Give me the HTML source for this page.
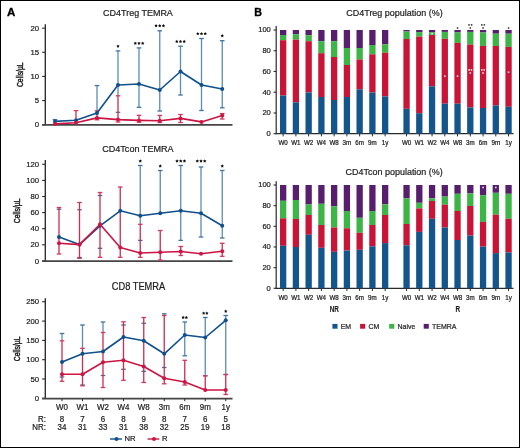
<!DOCTYPE html>
<html><head><meta charset="utf-8"><style>html,body{margin:0;padding:0;background:#fff;overflow:hidden}svg{display:block;will-change:transform}</style></head><body>
<svg width="520" height="448" viewBox="0 0 520 448">
<rect x="0" y="0" width="520" height="448" fill="#fff"/>
<rect x="0.5" y="0.5" width="519" height="447" fill="none" stroke="#000" stroke-width="1"/>
<text transform="translate(6.9,15.6) scale(1.12,1)" font-family="Liberation Sans, sans-serif" font-size="10.3" text-anchor="start" fill="#000" stroke="#000" stroke-width="0.3" font-weight="bold">A</text>
<text transform="translate(254.2,15.5) scale(1.04,1)" font-family="Liberation Sans, sans-serif" font-size="10.3" text-anchor="start" fill="#000" stroke="#000" stroke-width="0.3" font-weight="bold">B</text>
<text transform="translate(103.1,15.5) scale(0.907,1)" font-family="Liberation Sans, sans-serif" font-size="9.9" text-anchor="start" fill="#1e1e1e" stroke="#1e1e1e" stroke-width="0.22">CD4Treg TEMRA</text>
<line x1="45.3" y1="24.3" x2="45.3" y2="125.35" stroke="#2a2a2a" stroke-width="1.35"/>
<line x1="42.099999999999994" y1="124.8" x2="45.3" y2="124.8" stroke="#2a2a2a" stroke-width="1.1"/>
<text transform="translate(39.099999999999994,127.3) scale(0.97,1)" font-family="Liberation Sans, sans-serif" font-size="8.0" text-anchor="end" fill="#1e1e1e" stroke="#1e1e1e" stroke-width="0.22">0</text>
<line x1="42.099999999999994" y1="100.6" x2="45.3" y2="100.6" stroke="#2a2a2a" stroke-width="1.1"/>
<text transform="translate(39.099999999999994,103.1) scale(0.97,1)" font-family="Liberation Sans, sans-serif" font-size="8.0" text-anchor="end" fill="#1e1e1e" stroke="#1e1e1e" stroke-width="0.22">5</text>
<line x1="42.099999999999994" y1="76.4" x2="45.3" y2="76.4" stroke="#2a2a2a" stroke-width="1.1"/>
<text transform="translate(39.099999999999994,78.9) scale(0.97,1)" font-family="Liberation Sans, sans-serif" font-size="8.0" text-anchor="end" fill="#1e1e1e" stroke="#1e1e1e" stroke-width="0.22">10</text>
<line x1="42.099999999999994" y1="52.3" x2="45.3" y2="52.3" stroke="#2a2a2a" stroke-width="1.1"/>
<text transform="translate(39.099999999999994,54.8) scale(0.97,1)" font-family="Liberation Sans, sans-serif" font-size="8.0" text-anchor="end" fill="#1e1e1e" stroke="#1e1e1e" stroke-width="0.22">15</text>
<line x1="42.099999999999994" y1="28.2" x2="45.3" y2="28.2" stroke="#2a2a2a" stroke-width="1.1"/>
<text transform="translate(39.099999999999994,30.7) scale(0.97,1)" font-family="Liberation Sans, sans-serif" font-size="8.0" text-anchor="end" fill="#1e1e1e" stroke="#1e1e1e" stroke-width="0.22">20</text>
<line x1="42.099999999999994" y1="124.85" x2="232.5" y2="124.85" stroke="#454545" stroke-width="1.7"/>
<text transform="translate(23.4,74.7) rotate(-90) scale(0.725,1)" font-family="Liberation Sans, sans-serif" font-size="9.4" text-anchor="middle" fill="#1e1e1e" stroke="#1e1e1e" stroke-width="0.45">Cells/µL</text>
<line x1="55" y1="119.60" x2="55" y2="121.40" stroke="#5c8cb4" stroke-width="1.3"/>
<line x1="52.7" y1="119.6" x2="57.3" y2="119.6" stroke="#4073a3" stroke-width="1.3"/>



<line x1="97" y1="85.60" x2="97" y2="110.80" stroke="#5c8cb4" stroke-width="1.3"/>

<line x1="94.7" y1="85.6" x2="99.3" y2="85.6" stroke="#4073a3" stroke-width="1.3"/>
<line x1="118" y1="50.90" x2="118" y2="95.80" stroke="#5c8cb4" stroke-width="1.3"/>

<line x1="115.7" y1="50.9" x2="120.3" y2="50.9" stroke="#4073a3" stroke-width="1.3"/><line x1="115.7" y1="112.3" x2="120.3" y2="112.3" stroke="#4073a3" stroke-width="1.3"/>
<line x1="139" y1="47.90" x2="139" y2="107.30" stroke="#5c8cb4" stroke-width="1.3"/>

<line x1="136.7" y1="47.9" x2="141.3" y2="47.9" stroke="#4073a3" stroke-width="1.3"/><line x1="136.7" y1="107.3" x2="141.3" y2="107.3" stroke="#4073a3" stroke-width="1.3"/>
<line x1="159.75" y1="30.80" x2="159.75" y2="111.00" stroke="#5c8cb4" stroke-width="1.3"/>

<line x1="157.45" y1="30.8" x2="162.05" y2="30.8" stroke="#4073a3" stroke-width="1.3"/><line x1="157.45" y1="111" x2="162.05" y2="111" stroke="#4073a3" stroke-width="1.3"/>
<line x1="180.5" y1="46.20" x2="180.5" y2="95.00" stroke="#5c8cb4" stroke-width="1.3"/>

<line x1="178.2" y1="46.2" x2="182.8" y2="46.2" stroke="#4073a3" stroke-width="1.3"/><line x1="178.2" y1="95" x2="182.8" y2="95" stroke="#4073a3" stroke-width="1.3"/>
<line x1="201.5" y1="38.50" x2="201.5" y2="110.50" stroke="#5c8cb4" stroke-width="1.3"/>
<line x1="199.2" y1="38.5" x2="203.8" y2="38.5" stroke="#4073a3" stroke-width="1.3"/><line x1="199.2" y1="110.5" x2="203.8" y2="110.5" stroke="#4073a3" stroke-width="1.3"/>
<line x1="222.25" y1="40.70" x2="222.25" y2="107.80" stroke="#5c8cb4" stroke-width="1.3"/>

<line x1="219.95" y1="40.7" x2="224.55" y2="40.7" stroke="#4073a3" stroke-width="1.3"/><line x1="219.95" y1="107.8" x2="224.55" y2="107.8" stroke="#4073a3" stroke-width="1.3"/>


<line x1="76" y1="110.60" x2="76" y2="122.80" stroke="#cd2c50" stroke-width="1.3"/>
<line x1="73.7" y1="110.6" x2="78.3" y2="110.6" stroke="#d4385f" stroke-width="1.3"/>
<line x1="97" y1="110.80" x2="97" y2="119.80" stroke="#cd2c50" stroke-width="1.3"/>
<line x1="94.7" y1="110.8" x2="99.3" y2="110.8" stroke="#d4385f" stroke-width="1.3"/><line x1="94.7" y1="119.8" x2="99.3" y2="119.8" stroke="#d4385f" stroke-width="1.3"/>
<line x1="118" y1="95.80" x2="118" y2="122.00" stroke="#cd2c50" stroke-width="1.3"/>
<line x1="115.7" y1="95.8" x2="120.3" y2="95.8" stroke="#d4385f" stroke-width="1.3"/><line x1="115.7" y1="122" x2="120.3" y2="122" stroke="#d4385f" stroke-width="1.3"/>
<line x1="139" y1="115.30" x2="139" y2="122.20" stroke="#cd2c50" stroke-width="1.3"/>
<line x1="136.7" y1="115.3" x2="141.3" y2="115.3" stroke="#d4385f" stroke-width="1.3"/><line x1="136.7" y1="122.2" x2="141.3" y2="122.2" stroke="#d4385f" stroke-width="1.3"/>
<line x1="159.75" y1="115.40" x2="159.75" y2="122.50" stroke="#cd2c50" stroke-width="1.3"/>
<line x1="157.45" y1="115.4" x2="162.05" y2="115.4" stroke="#d4385f" stroke-width="1.3"/><line x1="157.45" y1="122.5" x2="162.05" y2="122.5" stroke="#d4385f" stroke-width="1.3"/>
<line x1="180.5" y1="114.50" x2="180.5" y2="122.50" stroke="#cd2c50" stroke-width="1.3"/>
<line x1="178.2" y1="114.5" x2="182.8" y2="114.5" stroke="#d4385f" stroke-width="1.3"/><line x1="178.2" y1="122.5" x2="182.8" y2="122.5" stroke="#d4385f" stroke-width="1.3"/>


<line x1="222.25" y1="113.60" x2="222.25" y2="119.00" stroke="#cd2c50" stroke-width="1.3"/>
<line x1="219.95" y1="113.6" x2="224.55" y2="113.6" stroke="#d4385f" stroke-width="1.3"/><line x1="219.95" y1="119" x2="224.55" y2="119" stroke="#d4385f" stroke-width="1.3"/>
<polyline points="55,121.4 76,120.3 97,112.9 118,85 139,84 159.75,90 180.5,71.5 201.5,85 222.25,89" fill="none" stroke="#10508c" stroke-width="1.6" stroke-linejoin="round"/>
<circle cx="55" cy="121.4" r="2" fill="#10508c"/>
<circle cx="76" cy="120.3" r="2" fill="#10508c"/>
<circle cx="97" cy="112.9" r="2" fill="#10508c"/>
<circle cx="118" cy="85" r="2" fill="#10508c"/>
<circle cx="139" cy="84" r="2" fill="#10508c"/>
<circle cx="159.75" cy="90" r="2" fill="#10508c"/>
<circle cx="180.5" cy="71.5" r="2" fill="#10508c"/>
<circle cx="201.5" cy="85" r="2" fill="#10508c"/>
<circle cx="222.25" cy="89" r="2" fill="#10508c"/>
<polyline points="55,123.9 76,122.8 97,117.9 118,119.6 139,120.4 159.75,120.8 180.5,118.4 201.5,121.9 222.25,115.4" fill="none" stroke="#cc1543" stroke-width="1.6" stroke-linejoin="round"/>
<circle cx="55" cy="123.9" r="2" fill="#cc1543"/>
<circle cx="76" cy="122.8" r="2" fill="#cc1543"/>
<circle cx="97" cy="117.9" r="2" fill="#cc1543"/>
<circle cx="118" cy="119.6" r="2" fill="#cc1543"/>
<circle cx="139" cy="120.4" r="2" fill="#cc1543"/>
<circle cx="159.75" cy="120.8" r="2" fill="#cc1543"/>
<circle cx="180.5" cy="118.4" r="2" fill="#cc1543"/>
<circle cx="201.5" cy="121.9" r="2" fill="#cc1543"/>
<circle cx="222.25" cy="115.4" r="2" fill="#cc1543"/>
<polygon points="118.00,44.45 118.57,45.42 119.66,45.66 118.92,46.50 119.03,47.62 118.00,47.16 116.97,47.62 117.08,46.50 116.34,45.66 117.43,45.42" fill="#111"/>
<polygon points="135.30,41.65 135.87,42.62 136.96,42.86 136.22,43.70 136.33,44.82 135.30,44.36 134.27,44.82 134.38,43.70 133.64,42.86 134.73,42.62" fill="#111"/><polygon points="139.00,41.65 139.57,42.62 140.66,42.86 139.92,43.70 140.03,44.82 139.00,44.36 137.97,44.82 138.08,43.70 137.34,42.86 138.43,42.62" fill="#111"/><polygon points="142.70,41.65 143.27,42.62 144.36,42.86 143.62,43.70 143.73,44.82 142.70,44.36 141.67,44.82 141.78,43.70 141.04,42.86 142.13,42.62" fill="#111"/>
<polygon points="156.05,24.05 156.62,25.02 157.71,25.26 156.97,26.10 157.08,27.22 156.05,26.76 155.02,27.22 155.13,26.10 154.39,25.26 155.48,25.02" fill="#111"/><polygon points="159.75,24.05 160.32,25.02 161.41,25.26 160.67,26.10 160.78,27.22 159.75,26.76 158.72,27.22 158.83,26.10 158.09,25.26 159.18,25.02" fill="#111"/><polygon points="163.45,24.05 164.02,25.02 165.11,25.26 164.37,26.10 164.48,27.22 163.45,26.76 162.42,27.22 162.53,26.10 161.79,25.26 162.88,25.02" fill="#111"/>
<polygon points="176.80,39.75 177.37,40.72 178.46,40.96 177.72,41.80 177.83,42.92 176.80,42.46 175.77,42.92 175.88,41.80 175.14,40.96 176.23,40.72" fill="#111"/><polygon points="180.50,39.75 181.07,40.72 182.16,40.96 181.42,41.80 181.53,42.92 180.50,42.46 179.47,42.92 179.58,41.80 178.84,40.96 179.93,40.72" fill="#111"/><polygon points="184.20,39.75 184.77,40.72 185.86,40.96 185.12,41.80 185.23,42.92 184.20,42.46 183.17,42.92 183.28,41.80 182.54,40.96 183.63,40.72" fill="#111"/>
<polygon points="197.80,31.95 198.37,32.92 199.46,33.16 198.72,34.00 198.83,35.12 197.80,34.66 196.77,35.12 196.88,34.00 196.14,33.16 197.23,32.92" fill="#111"/><polygon points="201.50,31.95 202.07,32.92 203.16,33.16 202.42,34.00 202.53,35.12 201.50,34.66 200.47,35.12 200.58,34.00 199.84,33.16 200.93,32.92" fill="#111"/><polygon points="205.20,31.95 205.77,32.92 206.86,33.16 206.12,34.00 206.23,35.12 205.20,34.66 204.17,35.12 204.28,34.00 203.54,33.16 204.63,32.92" fill="#111"/>
<polygon points="222.25,34.05 222.82,35.02 223.91,35.26 223.17,36.10 223.28,37.22 222.25,36.76 221.22,37.22 221.33,36.10 220.59,35.26 221.68,35.02" fill="#111"/>
<text transform="translate(102.2,151.8) scale(0.917,1)" font-family="Liberation Sans, sans-serif" font-size="9.9" text-anchor="start" fill="#1e1e1e" stroke="#1e1e1e" stroke-width="0.22">CD4Tcon TEMRA</text>
<line x1="45.3" y1="160" x2="45.3" y2="261.7" stroke="#2a2a2a" stroke-width="1.35"/>
<line x1="42.099999999999994" y1="261" x2="45.3" y2="261" stroke="#2a2a2a" stroke-width="1.1"/>
<text transform="translate(39.099999999999994,263.5) scale(0.97,1)" font-family="Liberation Sans, sans-serif" font-size="8.0" text-anchor="end" fill="#1e1e1e" stroke="#1e1e1e" stroke-width="0.22">0</text>
<line x1="42.099999999999994" y1="244.8" x2="45.3" y2="244.8" stroke="#2a2a2a" stroke-width="1.1"/>
<text transform="translate(39.099999999999994,247.3) scale(0.97,1)" font-family="Liberation Sans, sans-serif" font-size="8.0" text-anchor="end" fill="#1e1e1e" stroke="#1e1e1e" stroke-width="0.22">20</text>
<line x1="42.099999999999994" y1="228.7" x2="45.3" y2="228.7" stroke="#2a2a2a" stroke-width="1.1"/>
<text transform="translate(39.099999999999994,231.2) scale(0.97,1)" font-family="Liberation Sans, sans-serif" font-size="8.0" text-anchor="end" fill="#1e1e1e" stroke="#1e1e1e" stroke-width="0.22">40</text>
<line x1="42.099999999999994" y1="212.6" x2="45.3" y2="212.6" stroke="#2a2a2a" stroke-width="1.1"/>
<text transform="translate(39.099999999999994,215.1) scale(0.97,1)" font-family="Liberation Sans, sans-serif" font-size="8.0" text-anchor="end" fill="#1e1e1e" stroke="#1e1e1e" stroke-width="0.22">60</text>
<line x1="42.099999999999994" y1="196.5" x2="45.3" y2="196.5" stroke="#2a2a2a" stroke-width="1.1"/>
<text transform="translate(39.099999999999994,199.0) scale(0.97,1)" font-family="Liberation Sans, sans-serif" font-size="8.0" text-anchor="end" fill="#1e1e1e" stroke="#1e1e1e" stroke-width="0.22">80</text>
<line x1="42.099999999999994" y1="180.4" x2="45.3" y2="180.4" stroke="#2a2a2a" stroke-width="1.1"/>
<text transform="translate(39.099999999999994,182.9) scale(0.97,1)" font-family="Liberation Sans, sans-serif" font-size="8.0" text-anchor="end" fill="#1e1e1e" stroke="#1e1e1e" stroke-width="0.22">100</text>
<line x1="42.099999999999994" y1="164.3" x2="45.3" y2="164.3" stroke="#2a2a2a" stroke-width="1.1"/>
<text transform="translate(39.099999999999994,166.8) scale(0.97,1)" font-family="Liberation Sans, sans-serif" font-size="8.0" text-anchor="end" fill="#1e1e1e" stroke="#1e1e1e" stroke-width="0.22">120</text>
<line x1="42.099999999999994" y1="261.2" x2="232.5" y2="261.2" stroke="#454545" stroke-width="1.7"/>
<text transform="translate(19.7,210.85) rotate(-90) scale(0.725,1)" font-family="Liberation Sans, sans-serif" font-size="9.4" text-anchor="middle" fill="#1e1e1e" stroke="#1e1e1e" stroke-width="0.45">Cells/µL</text>


<line x1="56.7" y1="209.2" x2="61.3" y2="209.2" stroke="#4073a3" stroke-width="1.3"/>


<line x1="77.2" y1="209.7" x2="81.8" y2="209.7" stroke="#4073a3" stroke-width="1.3"/><line x1="77.2" y1="257.5" x2="81.8" y2="257.5" stroke="#4073a3" stroke-width="1.3"/>


<line x1="97.7" y1="195.5" x2="102.3" y2="195.5" stroke="#4073a3" stroke-width="1.3"/><line x1="97.7" y1="248.3" x2="102.3" y2="248.3" stroke="#4073a3" stroke-width="1.3"/>



<line x1="140.25" y1="165.50" x2="140.25" y2="224.30" stroke="#5c8cb4" stroke-width="1.3"/>

<line x1="137.95" y1="165.5" x2="142.55" y2="165.5" stroke="#4073a3" stroke-width="1.3"/><line x1="137.95" y1="240.4" x2="142.55" y2="240.4" stroke="#4073a3" stroke-width="1.3"/>
<line x1="160.25" y1="170.50" x2="160.25" y2="213.30" stroke="#5c8cb4" stroke-width="1.3"/>

<line x1="157.95" y1="170.5" x2="162.55" y2="170.5" stroke="#4073a3" stroke-width="1.3"/>
<line x1="180.75" y1="165.50" x2="180.75" y2="240.40" stroke="#5c8cb4" stroke-width="1.3"/>

<line x1="178.45" y1="165.5" x2="183.05" y2="165.5" stroke="#4073a3" stroke-width="1.3"/><line x1="178.45" y1="240.4" x2="183.05" y2="240.4" stroke="#4073a3" stroke-width="1.3"/>
<line x1="201" y1="167.00" x2="201" y2="237.00" stroke="#5c8cb4" stroke-width="1.3"/>
<line x1="198.7" y1="167" x2="203.3" y2="167" stroke="#4073a3" stroke-width="1.3"/><line x1="198.7" y1="237" x2="203.3" y2="237" stroke="#4073a3" stroke-width="1.3"/>
<line x1="222.25" y1="170.50" x2="222.25" y2="238.00" stroke="#5c8cb4" stroke-width="1.3"/>

<line x1="219.95" y1="170.5" x2="224.55" y2="170.5" stroke="#4073a3" stroke-width="1.3"/><line x1="219.95" y1="238" x2="224.55" y2="238" stroke="#4073a3" stroke-width="1.3"/>
<line x1="59" y1="207.50" x2="59" y2="254.00" stroke="#cd2c50" stroke-width="1.3"/>
<line x1="56.7" y1="207.5" x2="61.3" y2="207.5" stroke="#d4385f" stroke-width="1.3"/><line x1="56.7" y1="254" x2="61.3" y2="254" stroke="#d4385f" stroke-width="1.3"/>
<line x1="79.5" y1="202.50" x2="79.5" y2="258.30" stroke="#cd2c50" stroke-width="1.3"/>
<line x1="77.2" y1="202.5" x2="81.8" y2="202.5" stroke="#d4385f" stroke-width="1.3"/><line x1="77.2" y1="258.3" x2="81.8" y2="258.3" stroke="#d4385f" stroke-width="1.3"/>
<line x1="100" y1="192.50" x2="100" y2="257.30" stroke="#cd2c50" stroke-width="1.3"/>
<line x1="97.7" y1="192.5" x2="102.3" y2="192.5" stroke="#d4385f" stroke-width="1.3"/><line x1="97.7" y1="257.3" x2="102.3" y2="257.3" stroke="#d4385f" stroke-width="1.3"/>
<line x1="120.25" y1="187.00" x2="120.25" y2="257.30" stroke="#cd2c50" stroke-width="1.3"/>
<line x1="117.95" y1="187" x2="122.55" y2="187" stroke="#d4385f" stroke-width="1.3"/><line x1="117.95" y1="257.3" x2="122.55" y2="257.3" stroke="#d4385f" stroke-width="1.3"/>
<line x1="140.25" y1="224.30" x2="140.25" y2="257.30" stroke="#cd2c50" stroke-width="1.3"/>
<line x1="137.95" y1="224.3" x2="142.55" y2="224.3" stroke="#d4385f" stroke-width="1.3"/><line x1="137.95" y1="257.3" x2="142.55" y2="257.3" stroke="#d4385f" stroke-width="1.3"/>
<line x1="160.25" y1="230.50" x2="160.25" y2="260.00" stroke="#cd2c50" stroke-width="1.3"/>
<line x1="157.95" y1="230.5" x2="162.55" y2="230.5" stroke="#d4385f" stroke-width="1.3"/><line x1="157.95" y1="260" x2="162.55" y2="260" stroke="#d4385f" stroke-width="1.3"/>
<line x1="180.75" y1="246.50" x2="180.75" y2="255.50" stroke="#cd2c50" stroke-width="1.3"/>
<line x1="178.45" y1="246.5" x2="183.05" y2="246.5" stroke="#d4385f" stroke-width="1.3"/><line x1="178.45" y1="255.5" x2="183.05" y2="255.5" stroke="#d4385f" stroke-width="1.3"/>


<line x1="222.25" y1="243.30" x2="222.25" y2="256.30" stroke="#cd2c50" stroke-width="1.3"/>
<line x1="219.95" y1="243.3" x2="224.55" y2="243.3" stroke="#d4385f" stroke-width="1.3"/><line x1="219.95" y1="256.3" x2="224.55" y2="256.3" stroke="#d4385f" stroke-width="1.3"/>
<polyline points="59,237 79.5,244.6 100,225.8 120.25,210.8 140.25,215.7 160.25,213.3 180.75,210.8 201,213.3 222.25,225.8" fill="none" stroke="#10508c" stroke-width="1.6" stroke-linejoin="round"/>
<circle cx="59" cy="237" r="2" fill="#10508c"/>
<circle cx="79.5" cy="244.6" r="2" fill="#10508c"/>
<circle cx="100" cy="225.8" r="2" fill="#10508c"/>
<circle cx="120.25" cy="210.8" r="2" fill="#10508c"/>
<circle cx="140.25" cy="215.7" r="2" fill="#10508c"/>
<circle cx="160.25" cy="213.3" r="2" fill="#10508c"/>
<circle cx="180.75" cy="210.8" r="2" fill="#10508c"/>
<circle cx="201" cy="213.3" r="2" fill="#10508c"/>
<circle cx="222.25" cy="225.8" r="2" fill="#10508c"/>
<polyline points="59,243.3 79.5,244.6 100,224.2 120.25,247.5 140.25,253 160.25,252.3 180.75,251.5 201,253.8 222.25,251.3" fill="none" stroke="#cc1543" stroke-width="1.6" stroke-linejoin="round"/>
<circle cx="59" cy="243.3" r="2" fill="#cc1543"/>
<circle cx="79.5" cy="244.6" r="2" fill="#cc1543"/>
<circle cx="100" cy="224.2" r="2" fill="#cc1543"/>
<circle cx="120.25" cy="247.5" r="2" fill="#cc1543"/>
<circle cx="140.25" cy="253" r="2" fill="#cc1543"/>
<circle cx="160.25" cy="252.3" r="2" fill="#cc1543"/>
<circle cx="180.75" cy="251.5" r="2" fill="#cc1543"/>
<circle cx="201" cy="253.8" r="2" fill="#cc1543"/>
<circle cx="222.25" cy="251.3" r="2" fill="#cc1543"/>
<polygon points="140.25,159.35 140.82,160.32 141.91,160.56 141.17,161.40 141.28,162.52 140.25,162.06 139.22,162.52 139.33,161.40 138.59,160.56 139.68,160.32" fill="#111"/>
<polygon points="160.25,164.25 160.82,165.22 161.91,165.46 161.17,166.30 161.28,167.42 160.25,166.96 159.22,167.42 159.33,166.30 158.59,165.46 159.68,165.22" fill="#111"/>
<polygon points="177.05,159.35 177.62,160.32 178.71,160.56 177.97,161.40 178.08,162.52 177.05,162.06 176.02,162.52 176.13,161.40 175.39,160.56 176.48,160.32" fill="#111"/><polygon points="180.75,159.35 181.32,160.32 182.41,160.56 181.67,161.40 181.78,162.52 180.75,162.06 179.72,162.52 179.83,161.40 179.09,160.56 180.18,160.32" fill="#111"/><polygon points="184.45,159.35 185.02,160.32 186.11,160.56 185.37,161.40 185.48,162.52 184.45,162.06 183.42,162.52 183.53,161.40 182.79,160.56 183.88,160.32" fill="#111"/>
<polygon points="197.30,159.35 197.87,160.32 198.96,160.56 198.22,161.40 198.33,162.52 197.30,162.06 196.27,162.52 196.38,161.40 195.64,160.56 196.73,160.32" fill="#111"/><polygon points="201.00,159.35 201.57,160.32 202.66,160.56 201.92,161.40 202.03,162.52 201.00,162.06 199.97,162.52 200.08,161.40 199.34,160.56 200.43,160.32" fill="#111"/><polygon points="204.70,159.35 205.27,160.32 206.36,160.56 205.62,161.40 205.73,162.52 204.70,162.06 203.67,162.52 203.78,161.40 203.04,160.56 204.13,160.32" fill="#111"/>
<polygon points="222.25,164.25 222.82,165.22 223.91,165.46 223.17,166.30 223.28,167.42 222.25,166.96 221.22,167.42 221.33,166.30 220.59,165.46 221.68,165.22" fill="#111"/>
<text transform="translate(111.8,289.6) scale(0.928,1)" font-family="Liberation Sans, sans-serif" font-size="10.0" text-anchor="start" fill="#1e1e1e" stroke="#1e1e1e" stroke-width="0.22">CD8 TEMRA</text>
<line x1="45.3" y1="298.2" x2="45.3" y2="399.1" stroke="#2a2a2a" stroke-width="1.35"/>
<line x1="42.099999999999994" y1="398.3" x2="45.3" y2="398.3" stroke="#2a2a2a" stroke-width="1.1"/>
<text transform="translate(39.099999999999994,400.8) scale(0.97,1)" font-family="Liberation Sans, sans-serif" font-size="8.0" text-anchor="end" fill="#1e1e1e" stroke="#1e1e1e" stroke-width="0.22">0</text>
<line x1="42.099999999999994" y1="379" x2="45.3" y2="379" stroke="#2a2a2a" stroke-width="1.1"/>
<text transform="translate(39.099999999999994,381.5) scale(0.97,1)" font-family="Liberation Sans, sans-serif" font-size="8.0" text-anchor="end" fill="#1e1e1e" stroke="#1e1e1e" stroke-width="0.22">50</text>
<line x1="42.099999999999994" y1="359.7" x2="45.3" y2="359.7" stroke="#2a2a2a" stroke-width="1.1"/>
<text transform="translate(39.099999999999994,362.2) scale(0.97,1)" font-family="Liberation Sans, sans-serif" font-size="8.0" text-anchor="end" fill="#1e1e1e" stroke="#1e1e1e" stroke-width="0.22">100</text>
<line x1="42.099999999999994" y1="340.4" x2="45.3" y2="340.4" stroke="#2a2a2a" stroke-width="1.1"/>
<text transform="translate(39.099999999999994,342.9) scale(0.97,1)" font-family="Liberation Sans, sans-serif" font-size="8.0" text-anchor="end" fill="#1e1e1e" stroke="#1e1e1e" stroke-width="0.22">150</text>
<line x1="42.099999999999994" y1="321.1" x2="45.3" y2="321.1" stroke="#2a2a2a" stroke-width="1.1"/>
<text transform="translate(39.099999999999994,323.6) scale(0.97,1)" font-family="Liberation Sans, sans-serif" font-size="8.0" text-anchor="end" fill="#1e1e1e" stroke="#1e1e1e" stroke-width="0.22">200</text>
<line x1="42.099999999999994" y1="301.7" x2="45.3" y2="301.7" stroke="#2a2a2a" stroke-width="1.1"/>
<text transform="translate(39.099999999999994,304.2) scale(0.97,1)" font-family="Liberation Sans, sans-serif" font-size="8.0" text-anchor="end" fill="#1e1e1e" stroke="#1e1e1e" stroke-width="0.22">250</text>
<line x1="42.099999999999994" y1="398.6" x2="232.5" y2="398.6" stroke="#454545" stroke-width="1.7"/>
<line x1="62" y1="398.6" x2="62" y2="401.20000000000005" stroke="#2a2a2a" stroke-width="1"/>
<line x1="82.5" y1="398.6" x2="82.5" y2="401.20000000000005" stroke="#2a2a2a" stroke-width="1"/>
<line x1="103" y1="398.6" x2="103" y2="401.20000000000005" stroke="#2a2a2a" stroke-width="1"/>
<line x1="123.5" y1="398.6" x2="123.5" y2="401.20000000000005" stroke="#2a2a2a" stroke-width="1"/>
<line x1="143.75" y1="398.6" x2="143.75" y2="401.20000000000005" stroke="#2a2a2a" stroke-width="1"/>
<line x1="164.25" y1="398.6" x2="164.25" y2="401.20000000000005" stroke="#2a2a2a" stroke-width="1"/>
<line x1="184.75" y1="398.6" x2="184.75" y2="401.20000000000005" stroke="#2a2a2a" stroke-width="1"/>
<line x1="205.25" y1="398.6" x2="205.25" y2="401.20000000000005" stroke="#2a2a2a" stroke-width="1"/>
<line x1="225.75" y1="398.6" x2="225.75" y2="401.20000000000005" stroke="#2a2a2a" stroke-width="1"/>
<text transform="translate(19.7,348.8) rotate(-90) scale(0.725,1)" font-family="Liberation Sans, sans-serif" font-size="9.4" text-anchor="middle" fill="#1e1e1e" stroke="#1e1e1e" stroke-width="0.45">Cells/µL</text>
<line x1="62" y1="333.50" x2="62" y2="340.80" stroke="#5c8cb4" stroke-width="1.3"/>

<line x1="59.7" y1="333.5" x2="64.3" y2="333.5" stroke="#4073a3" stroke-width="1.3"/><line x1="59.7" y1="377" x2="64.3" y2="377" stroke="#4073a3" stroke-width="1.3"/>
<line x1="82.5" y1="325.00" x2="82.5" y2="348.30" stroke="#5c8cb4" stroke-width="1.3"/>

<line x1="80.2" y1="325" x2="84.8" y2="325" stroke="#4073a3" stroke-width="1.3"/><line x1="80.2" y1="385" x2="84.8" y2="385" stroke="#4073a3" stroke-width="1.3"/>
<line x1="103" y1="322.00" x2="103" y2="332.50" stroke="#5c8cb4" stroke-width="1.3"/>

<line x1="100.7" y1="322" x2="105.3" y2="322" stroke="#4073a3" stroke-width="1.3"/><line x1="100.7" y1="375.5" x2="105.3" y2="375.5" stroke="#4073a3" stroke-width="1.3"/>


<line x1="121.2" y1="325" x2="125.8" y2="325" stroke="#4073a3" stroke-width="1.3"/><line x1="121.2" y1="369.3" x2="125.8" y2="369.3" stroke="#4073a3" stroke-width="1.3"/>


<line x1="141.45" y1="323.3" x2="146.05" y2="323.3" stroke="#4073a3" stroke-width="1.3"/><line x1="141.45" y1="371.3" x2="146.05" y2="371.3" stroke="#4073a3" stroke-width="1.3"/>
<line x1="164.25" y1="313.80" x2="164.25" y2="315.50" stroke="#5c8cb4" stroke-width="1.3"/>

<line x1="161.95" y1="313.8" x2="166.55" y2="313.8" stroke="#4073a3" stroke-width="1.3"/><line x1="161.95" y1="367.5" x2="166.55" y2="367.5" stroke="#4073a3" stroke-width="1.3"/>
<line x1="184.75" y1="322.00" x2="184.75" y2="355.80" stroke="#5c8cb4" stroke-width="1.3"/>

<line x1="182.45" y1="322" x2="187.05" y2="322" stroke="#4073a3" stroke-width="1.3"/><line x1="182.45" y1="355.8" x2="187.05" y2="355.8" stroke="#4073a3" stroke-width="1.3"/>
<line x1="205.25" y1="317.50" x2="205.25" y2="375.80" stroke="#5c8cb4" stroke-width="1.3"/>

<line x1="202.95" y1="317.5" x2="207.55" y2="317.5" stroke="#4073a3" stroke-width="1.3"/><line x1="202.95" y1="375.8" x2="207.55" y2="375.8" stroke="#4073a3" stroke-width="1.3"/>
<line x1="225.75" y1="315.50" x2="225.75" y2="374.50" stroke="#5c8cb4" stroke-width="1.3"/>

<line x1="223.45" y1="315.5" x2="228.05" y2="315.5" stroke="#4073a3" stroke-width="1.3"/><line x1="223.45" y1="374.5" x2="228.05" y2="374.5" stroke="#4073a3" stroke-width="1.3"/>
<line x1="62" y1="340.80" x2="62" y2="381.30" stroke="#cd2c50" stroke-width="1.3"/>
<line x1="59.7" y1="340.8" x2="64.3" y2="340.8" stroke="#d4385f" stroke-width="1.3"/><line x1="59.7" y1="381.3" x2="64.3" y2="381.3" stroke="#d4385f" stroke-width="1.3"/>
<line x1="82.5" y1="348.30" x2="82.5" y2="385.80" stroke="#cd2c50" stroke-width="1.3"/>
<line x1="80.2" y1="348.3" x2="84.8" y2="348.3" stroke="#d4385f" stroke-width="1.3"/><line x1="80.2" y1="385.8" x2="84.8" y2="385.8" stroke="#d4385f" stroke-width="1.3"/>
<line x1="103" y1="332.50" x2="103" y2="387.50" stroke="#cd2c50" stroke-width="1.3"/>
<line x1="100.7" y1="332.5" x2="105.3" y2="332.5" stroke="#d4385f" stroke-width="1.3"/><line x1="100.7" y1="387.5" x2="105.3" y2="387.5" stroke="#d4385f" stroke-width="1.3"/>
<line x1="123.5" y1="321.80" x2="123.5" y2="380.30" stroke="#cd2c50" stroke-width="1.3"/>
<line x1="121.2" y1="321.8" x2="125.8" y2="321.8" stroke="#d4385f" stroke-width="1.3"/><line x1="121.2" y1="380.3" x2="125.8" y2="380.3" stroke="#d4385f" stroke-width="1.3"/>
<line x1="143.75" y1="317.50" x2="143.75" y2="382.50" stroke="#cd2c50" stroke-width="1.3"/>
<line x1="141.45" y1="317.5" x2="146.05" y2="317.5" stroke="#d4385f" stroke-width="1.3"/><line x1="141.45" y1="382.5" x2="146.05" y2="382.5" stroke="#d4385f" stroke-width="1.3"/>
<line x1="164.25" y1="315.50" x2="164.25" y2="383.80" stroke="#cd2c50" stroke-width="1.3"/>
<line x1="161.95" y1="315.5" x2="166.55" y2="315.5" stroke="#d4385f" stroke-width="1.3"/><line x1="161.95" y1="383.8" x2="166.55" y2="383.8" stroke="#d4385f" stroke-width="1.3"/>
<line x1="184.75" y1="360.30" x2="184.75" y2="385.00" stroke="#cd2c50" stroke-width="1.3"/>
<line x1="182.45" y1="360.3" x2="187.05" y2="360.3" stroke="#d4385f" stroke-width="1.3"/><line x1="182.45" y1="385" x2="187.05" y2="385" stroke="#d4385f" stroke-width="1.3"/>
<line x1="205.25" y1="375.80" x2="205.25" y2="390.00" stroke="#cd2c50" stroke-width="1.3"/>
<line x1="202.95" y1="375.8" x2="207.55" y2="375.8" stroke="#d4385f" stroke-width="1.3"/>
<line x1="225.75" y1="374.50" x2="225.75" y2="394.50" stroke="#cd2c50" stroke-width="1.3"/>
<line x1="223.45" y1="374.5" x2="228.05" y2="374.5" stroke="#d4385f" stroke-width="1.3"/><line x1="223.45" y1="394.5" x2="228.05" y2="394.5" stroke="#d4385f" stroke-width="1.3"/>
<polyline points="62,362 82.5,353.8 103,351.5 123.5,337 143.75,340.8 164.25,353.8 184.75,335 205.25,337.5 225.75,320.3" fill="none" stroke="#10508c" stroke-width="1.6" stroke-linejoin="round"/>
<circle cx="62" cy="362" r="2" fill="#10508c"/>
<circle cx="82.5" cy="353.8" r="2" fill="#10508c"/>
<circle cx="103" cy="351.5" r="2" fill="#10508c"/>
<circle cx="123.5" cy="337" r="2" fill="#10508c"/>
<circle cx="143.75" cy="340.8" r="2" fill="#10508c"/>
<circle cx="164.25" cy="353.8" r="2" fill="#10508c"/>
<circle cx="184.75" cy="335" r="2" fill="#10508c"/>
<circle cx="205.25" cy="337.5" r="2" fill="#10508c"/>
<circle cx="225.75" cy="320.3" r="2" fill="#10508c"/>
<polyline points="62,374.3 82.5,374.3 103,362.3 123.5,360.3 143.75,366.5 164.25,378.3 184.75,382 205.25,390 225.75,390" fill="none" stroke="#cc1543" stroke-width="1.6" stroke-linejoin="round"/>
<circle cx="62" cy="374.3" r="2" fill="#cc1543"/>
<circle cx="82.5" cy="374.3" r="2" fill="#cc1543"/>
<circle cx="103" cy="362.3" r="2" fill="#cc1543"/>
<circle cx="123.5" cy="360.3" r="2" fill="#cc1543"/>
<circle cx="143.75" cy="366.5" r="2" fill="#cc1543"/>
<circle cx="164.25" cy="378.3" r="2" fill="#cc1543"/>
<circle cx="184.75" cy="382" r="2" fill="#cc1543"/>
<circle cx="205.25" cy="390" r="2" fill="#cc1543"/>
<circle cx="225.75" cy="390" r="2" fill="#cc1543"/>
<polygon points="183.15,315.75 183.72,316.72 184.81,316.96 184.07,317.80 184.18,318.92 183.15,318.46 182.12,318.92 182.23,317.80 181.49,316.96 182.58,316.72" fill="#111"/><polygon points="186.35,315.75 186.92,316.72 188.01,316.96 187.27,317.80 187.38,318.92 186.35,318.46 185.32,318.92 185.43,317.80 184.69,316.96 185.78,316.72" fill="#111"/>
<polygon points="203.65,311.45 204.22,312.42 205.31,312.66 204.57,313.50 204.68,314.62 203.65,314.16 202.62,314.62 202.73,313.50 201.99,312.66 203.08,312.42" fill="#111"/><polygon points="206.85,311.45 207.42,312.42 208.51,312.66 207.77,313.50 207.88,314.62 206.85,314.16 205.82,314.62 205.93,313.50 205.19,312.66 206.28,312.42" fill="#111"/>
<polygon points="225.75,309.55 226.32,310.52 227.41,310.76 226.67,311.60 226.78,312.72 225.75,312.26 224.72,312.72 224.83,311.60 224.09,310.76 225.18,310.52" fill="#111"/>
<text transform="translate(62,410.2) scale(0.97,1)" font-family="Liberation Sans, sans-serif" font-size="8.2" text-anchor="middle" fill="#1e1e1e" stroke="#1e1e1e" stroke-width="0.22">W0</text>
<text transform="translate(62,421.7) scale(0.97,1)" font-family="Liberation Sans, sans-serif" font-size="8.2" text-anchor="middle" fill="#1e1e1e" stroke="#1e1e1e" stroke-width="0.22">8</text>
<text transform="translate(62,430.3) scale(0.97,1)" font-family="Liberation Sans, sans-serif" font-size="8.2" text-anchor="middle" fill="#1e1e1e" stroke="#1e1e1e" stroke-width="0.22">34</text>
<text transform="translate(82.5,410.2) scale(0.97,1)" font-family="Liberation Sans, sans-serif" font-size="8.2" text-anchor="middle" fill="#1e1e1e" stroke="#1e1e1e" stroke-width="0.22">W1</text>
<text transform="translate(82.5,421.7) scale(0.97,1)" font-family="Liberation Sans, sans-serif" font-size="8.2" text-anchor="middle" fill="#1e1e1e" stroke="#1e1e1e" stroke-width="0.22">7</text>
<text transform="translate(82.5,430.3) scale(0.97,1)" font-family="Liberation Sans, sans-serif" font-size="8.2" text-anchor="middle" fill="#1e1e1e" stroke="#1e1e1e" stroke-width="0.22">31</text>
<text transform="translate(103,410.2) scale(0.97,1)" font-family="Liberation Sans, sans-serif" font-size="8.2" text-anchor="middle" fill="#1e1e1e" stroke="#1e1e1e" stroke-width="0.22">W2</text>
<text transform="translate(103,421.7) scale(0.97,1)" font-family="Liberation Sans, sans-serif" font-size="8.2" text-anchor="middle" fill="#1e1e1e" stroke="#1e1e1e" stroke-width="0.22">6</text>
<text transform="translate(103,430.3) scale(0.97,1)" font-family="Liberation Sans, sans-serif" font-size="8.2" text-anchor="middle" fill="#1e1e1e" stroke="#1e1e1e" stroke-width="0.22">33</text>
<text transform="translate(123.5,410.2) scale(0.97,1)" font-family="Liberation Sans, sans-serif" font-size="8.2" text-anchor="middle" fill="#1e1e1e" stroke="#1e1e1e" stroke-width="0.22">W4</text>
<text transform="translate(123.5,421.7) scale(0.97,1)" font-family="Liberation Sans, sans-serif" font-size="8.2" text-anchor="middle" fill="#1e1e1e" stroke="#1e1e1e" stroke-width="0.22">8</text>
<text transform="translate(123.5,430.3) scale(0.97,1)" font-family="Liberation Sans, sans-serif" font-size="8.2" text-anchor="middle" fill="#1e1e1e" stroke="#1e1e1e" stroke-width="0.22">31</text>
<text transform="translate(143.75,410.2) scale(0.97,1)" font-family="Liberation Sans, sans-serif" font-size="8.2" text-anchor="middle" fill="#1e1e1e" stroke="#1e1e1e" stroke-width="0.22">W8</text>
<text transform="translate(143.75,421.7) scale(0.97,1)" font-family="Liberation Sans, sans-serif" font-size="8.2" text-anchor="middle" fill="#1e1e1e" stroke="#1e1e1e" stroke-width="0.22">9</text>
<text transform="translate(143.75,430.3) scale(0.97,1)" font-family="Liberation Sans, sans-serif" font-size="8.2" text-anchor="middle" fill="#1e1e1e" stroke="#1e1e1e" stroke-width="0.22">38</text>
<text transform="translate(164.25,410.2) scale(0.97,1)" font-family="Liberation Sans, sans-serif" font-size="8.2" text-anchor="middle" fill="#1e1e1e" stroke="#1e1e1e" stroke-width="0.22">3m</text>
<text transform="translate(164.25,421.7) scale(0.97,1)" font-family="Liberation Sans, sans-serif" font-size="8.2" text-anchor="middle" fill="#1e1e1e" stroke="#1e1e1e" stroke-width="0.22">8</text>
<text transform="translate(164.25,430.3) scale(0.97,1)" font-family="Liberation Sans, sans-serif" font-size="8.2" text-anchor="middle" fill="#1e1e1e" stroke="#1e1e1e" stroke-width="0.22">32</text>
<text transform="translate(184.75,410.2) scale(0.97,1)" font-family="Liberation Sans, sans-serif" font-size="8.2" text-anchor="middle" fill="#1e1e1e" stroke="#1e1e1e" stroke-width="0.22">6m</text>
<text transform="translate(184.75,421.7) scale(0.97,1)" font-family="Liberation Sans, sans-serif" font-size="8.2" text-anchor="middle" fill="#1e1e1e" stroke="#1e1e1e" stroke-width="0.22">7</text>
<text transform="translate(184.75,430.3) scale(0.97,1)" font-family="Liberation Sans, sans-serif" font-size="8.2" text-anchor="middle" fill="#1e1e1e" stroke="#1e1e1e" stroke-width="0.22">25</text>
<text transform="translate(205.25,410.2) scale(0.97,1)" font-family="Liberation Sans, sans-serif" font-size="8.2" text-anchor="middle" fill="#1e1e1e" stroke="#1e1e1e" stroke-width="0.22">9m</text>
<text transform="translate(205.25,421.7) scale(0.97,1)" font-family="Liberation Sans, sans-serif" font-size="8.2" text-anchor="middle" fill="#1e1e1e" stroke="#1e1e1e" stroke-width="0.22">6</text>
<text transform="translate(205.25,430.3) scale(0.97,1)" font-family="Liberation Sans, sans-serif" font-size="8.2" text-anchor="middle" fill="#1e1e1e" stroke="#1e1e1e" stroke-width="0.22">19</text>
<text transform="translate(225.75,410.2) scale(0.97,1)" font-family="Liberation Sans, sans-serif" font-size="8.2" text-anchor="middle" fill="#1e1e1e" stroke="#1e1e1e" stroke-width="0.22">1y</text>
<text transform="translate(225.75,421.7) scale(0.97,1)" font-family="Liberation Sans, sans-serif" font-size="8.2" text-anchor="middle" fill="#1e1e1e" stroke="#1e1e1e" stroke-width="0.22">5</text>
<text transform="translate(225.75,430.3) scale(0.97,1)" font-family="Liberation Sans, sans-serif" font-size="8.2" text-anchor="middle" fill="#1e1e1e" stroke="#1e1e1e" stroke-width="0.22">18</text>
<text transform="translate(45.9,421.7) scale(0.95,1)" font-family="Liberation Sans, sans-serif" font-size="8.3" text-anchor="end" fill="#1e1e1e" stroke="#1e1e1e" stroke-width="0.22">R:</text>
<text transform="translate(45.9,430.3) scale(0.95,1)" font-family="Liberation Sans, sans-serif" font-size="8.3" text-anchor="end" fill="#1e1e1e" stroke="#1e1e1e" stroke-width="0.22">NR:</text>
<line x1="110" y1="439" x2="122" y2="439" stroke="#10508c" stroke-width="1.4"/><circle cx="116.5" cy="439" r="2" fill="#10508c"/>
<text transform="translate(124.5,441.4) scale(0.97,1)" font-family="Liberation Sans, sans-serif" font-size="7.9" text-anchor="start" fill="#1e1e1e" stroke="#1e1e1e" stroke-width="0.22">NR</text>
<line x1="147.6" y1="439" x2="159.3" y2="439" stroke="#cc1543" stroke-width="1.4"/><circle cx="154" cy="439" r="2" fill="#cc1543"/>
<text transform="translate(161.9,441.4) scale(0.97,1)" font-family="Liberation Sans, sans-serif" font-size="7.9" text-anchor="start" fill="#1e1e1e" stroke="#1e1e1e" stroke-width="0.22">R</text>
<text transform="translate(346.3,16.2) scale(0.935,1)" font-family="Liberation Sans, sans-serif" font-size="9.6" text-anchor="start" fill="#1e1e1e" stroke="#1e1e1e" stroke-width="0.22">CD4Treg population (%)</text>
<line x1="276.2" y1="26" x2="276.2" y2="133.7" stroke="#2a2a2a" stroke-width="1.2"/>
<line x1="273.59999999999997" y1="133.70" x2="276.2" y2="133.70" stroke="#2a2a2a" stroke-width="1.1"/>
<text transform="translate(270.8,136.1) scale(0.97,1)" font-family="Liberation Sans, sans-serif" font-size="7.8" text-anchor="end" fill="#1e1e1e" stroke="#1e1e1e" stroke-width="0.22">0</text>
<line x1="273.59999999999997" y1="112.96" x2="276.2" y2="112.96" stroke="#2a2a2a" stroke-width="1.1"/>
<text transform="translate(270.8,115.36) scale(0.97,1)" font-family="Liberation Sans, sans-serif" font-size="7.8" text-anchor="end" fill="#1e1e1e" stroke="#1e1e1e" stroke-width="0.22">20</text>
<line x1="273.59999999999997" y1="92.22" x2="276.2" y2="92.22" stroke="#2a2a2a" stroke-width="1.1"/>
<text transform="translate(270.8,94.62) scale(0.97,1)" font-family="Liberation Sans, sans-serif" font-size="7.8" text-anchor="end" fill="#1e1e1e" stroke="#1e1e1e" stroke-width="0.22">40</text>
<line x1="273.59999999999997" y1="71.48" x2="276.2" y2="71.48" stroke="#2a2a2a" stroke-width="1.1"/>
<text transform="translate(270.8,73.88) scale(0.97,1)" font-family="Liberation Sans, sans-serif" font-size="7.8" text-anchor="end" fill="#1e1e1e" stroke="#1e1e1e" stroke-width="0.22">60</text>
<line x1="273.59999999999997" y1="50.74" x2="276.2" y2="50.74" stroke="#2a2a2a" stroke-width="1.1"/>
<text transform="translate(270.8,53.14) scale(0.97,1)" font-family="Liberation Sans, sans-serif" font-size="7.8" text-anchor="end" fill="#1e1e1e" stroke="#1e1e1e" stroke-width="0.22">80</text>
<line x1="273.59999999999997" y1="30.00" x2="276.2" y2="30.00" stroke="#2a2a2a" stroke-width="1.1"/>
<text transform="translate(270.8,32.4) scale(0.97,1)" font-family="Liberation Sans, sans-serif" font-size="7.8" text-anchor="end" fill="#1e1e1e" stroke="#1e1e1e" stroke-width="0.22">100</text>
<line x1="275.2" y1="133.7" x2="513.5" y2="133.7" stroke="#2a2a2a" stroke-width="1.2"/>
<rect x="280.0" y="30" width="6.3" height="5.00" fill="#581e6e"/>
<rect x="280.0" y="35" width="6.3" height="5.20" fill="#3cb446"/>
<rect x="280.0" y="40.2" width="6.3" height="55.30" fill="#c81437"/>
<rect x="280.0" y="95.5" width="6.3" height="38.20" fill="#14558c"/>
<line x1="283.15" y1="133.7" x2="283.15" y2="136.39999999999998" stroke="#2a2a2a" stroke-width="1"/>
<rect x="292.75" y="30" width="6.3" height="4.20" fill="#581e6e"/>
<rect x="292.75" y="34.2" width="6.3" height="5.40" fill="#3cb446"/>
<rect x="292.75" y="39.6" width="6.3" height="62.70" fill="#c81437"/>
<rect x="292.75" y="102.3" width="6.3" height="31.40" fill="#14558c"/>
<line x1="295.9" y1="133.7" x2="295.9" y2="136.39999999999998" stroke="#2a2a2a" stroke-width="1"/>
<rect x="305.5" y="30" width="6.3" height="5.30" fill="#581e6e"/>
<rect x="305.5" y="35.3" width="6.3" height="5.90" fill="#3cb446"/>
<rect x="305.5" y="41.2" width="6.3" height="51.30" fill="#c81437"/>
<rect x="305.5" y="92.5" width="6.3" height="41.20" fill="#14558c"/>
<line x1="308.65" y1="133.7" x2="308.65" y2="136.39999999999998" stroke="#2a2a2a" stroke-width="1"/>
<rect x="318.25" y="30" width="6.3" height="11.20" fill="#581e6e"/>
<rect x="318.25" y="41.2" width="6.3" height="12.00" fill="#3cb446"/>
<rect x="318.25" y="53.2" width="6.3" height="43.80" fill="#c81437"/>
<rect x="318.25" y="97" width="6.3" height="36.70" fill="#14558c"/>
<line x1="321.4" y1="133.7" x2="321.4" y2="136.39999999999998" stroke="#2a2a2a" stroke-width="1"/>
<rect x="331.0" y="30" width="6.3" height="11.20" fill="#581e6e"/>
<rect x="331.0" y="41.2" width="6.3" height="15.80" fill="#3cb446"/>
<rect x="331.0" y="57" width="6.3" height="43.00" fill="#c81437"/>
<rect x="331.0" y="100" width="6.3" height="33.70" fill="#14558c"/>
<line x1="334.15" y1="133.7" x2="334.15" y2="136.39999999999998" stroke="#2a2a2a" stroke-width="1"/>
<rect x="343.75" y="30" width="6.3" height="18.00" fill="#581e6e"/>
<rect x="343.75" y="48" width="6.3" height="17.00" fill="#3cb446"/>
<rect x="343.75" y="65" width="6.3" height="32.00" fill="#c81437"/>
<rect x="343.75" y="97" width="6.3" height="36.70" fill="#14558c"/>
<line x1="346.9" y1="133.7" x2="346.9" y2="136.39999999999998" stroke="#2a2a2a" stroke-width="1"/>
<rect x="356.5" y="30" width="6.3" height="18.00" fill="#581e6e"/>
<rect x="356.5" y="48" width="6.3" height="11.50" fill="#3cb446"/>
<rect x="356.5" y="59.5" width="6.3" height="29.80" fill="#c81437"/>
<rect x="356.5" y="89.3" width="6.3" height="44.40" fill="#14558c"/>
<line x1="359.65" y1="133.7" x2="359.65" y2="136.39999999999998" stroke="#2a2a2a" stroke-width="1"/>
<rect x="369.25" y="30" width="6.3" height="15.00" fill="#581e6e"/>
<rect x="369.25" y="45" width="6.3" height="9.30" fill="#3cb446"/>
<rect x="369.25" y="54.3" width="6.3" height="38.20" fill="#c81437"/>
<rect x="369.25" y="92.5" width="6.3" height="41.20" fill="#14558c"/>
<line x1="372.4" y1="133.7" x2="372.4" y2="136.39999999999998" stroke="#2a2a2a" stroke-width="1"/>
<rect x="382.0" y="30" width="6.3" height="14.20" fill="#581e6e"/>
<rect x="382.0" y="44.2" width="6.3" height="8.50" fill="#3cb446"/>
<rect x="382.0" y="52.7" width="6.3" height="43.70" fill="#c81437"/>
<rect x="382.0" y="96.4" width="6.3" height="37.30" fill="#14558c"/>
<line x1="385.15" y1="133.7" x2="385.15" y2="136.39999999999998" stroke="#2a2a2a" stroke-width="1"/>
<rect x="403.4" y="30" width="6.3" height="1.50" fill="#581e6e"/>
<rect x="403.4" y="31.5" width="6.3" height="7.50" fill="#3cb446"/>
<rect x="403.4" y="39" width="6.3" height="69.80" fill="#c81437"/>
<rect x="403.4" y="108.8" width="6.3" height="24.90" fill="#14558c"/>
<line x1="406.54999999999995" y1="133.7" x2="406.54999999999995" y2="136.39999999999998" stroke="#2a2a2a" stroke-width="1"/>
<rect x="416.15" y="30" width="6.3" height="2.10" fill="#581e6e"/>
<rect x="416.15" y="32.1" width="6.3" height="4.50" fill="#3cb446"/>
<rect x="416.15" y="36.6" width="6.3" height="76.60" fill="#c81437"/>
<rect x="416.15" y="113.2" width="6.3" height="20.50" fill="#14558c"/>
<line x1="419.29999999999995" y1="133.7" x2="419.29999999999995" y2="136.39999999999998" stroke="#2a2a2a" stroke-width="1"/>
<rect x="428.9" y="30" width="6.3" height="2.50" fill="#581e6e"/>
<rect x="428.9" y="32.5" width="6.3" height="2.50" fill="#3cb446"/>
<rect x="428.9" y="35" width="6.3" height="51.30" fill="#c81437"/>
<rect x="428.9" y="86.3" width="6.3" height="47.40" fill="#14558c"/>
<line x1="432.04999999999995" y1="133.7" x2="432.04999999999995" y2="136.39999999999998" stroke="#2a2a2a" stroke-width="1"/>
<rect x="441.65" y="30" width="6.3" height="1.90" fill="#581e6e"/>
<rect x="441.65" y="31.9" width="6.3" height="6.90" fill="#3cb446"/>
<rect x="441.65" y="38.8" width="6.3" height="64.90" fill="#c81437"/>
<rect x="441.65" y="103.7" width="6.3" height="30.00" fill="#14558c"/>
<line x1="444.79999999999995" y1="133.7" x2="444.79999999999995" y2="136.39999999999998" stroke="#2a2a2a" stroke-width="1"/>
<rect x="454.4" y="30" width="6.3" height="2.50" fill="#581e6e"/>
<rect x="454.4" y="32.5" width="6.3" height="10.40" fill="#3cb446"/>
<rect x="454.4" y="42.9" width="6.3" height="60.80" fill="#c81437"/>
<rect x="454.4" y="103.7" width="6.3" height="30.00" fill="#14558c"/>
<line x1="457.54999999999995" y1="133.7" x2="457.54999999999995" y2="136.39999999999998" stroke="#2a2a2a" stroke-width="1"/>
<rect x="467.15" y="30" width="6.3" height="1.90" fill="#581e6e"/>
<rect x="467.15" y="31.9" width="6.3" height="12.60" fill="#3cb446"/>
<rect x="467.15" y="44.5" width="6.3" height="62.90" fill="#c81437"/>
<rect x="467.15" y="107.4" width="6.3" height="26.30" fill="#14558c"/>
<line x1="470.29999999999995" y1="133.7" x2="470.29999999999995" y2="136.39999999999998" stroke="#2a2a2a" stroke-width="1"/>
<rect x="479.9" y="30" width="6.3" height="2.50" fill="#581e6e"/>
<rect x="479.9" y="32.5" width="6.3" height="13.40" fill="#3cb446"/>
<rect x="479.9" y="45.9" width="6.3" height="62.10" fill="#c81437"/>
<rect x="479.9" y="108" width="6.3" height="25.70" fill="#14558c"/>
<line x1="483.04999999999995" y1="133.7" x2="483.04999999999995" y2="136.39999999999998" stroke="#2a2a2a" stroke-width="1"/>
<rect x="492.65" y="30" width="6.3" height="3.70" fill="#581e6e"/>
<rect x="492.65" y="33.7" width="6.3" height="12.30" fill="#3cb446"/>
<rect x="492.65" y="46" width="6.3" height="59.40" fill="#c81437"/>
<rect x="492.65" y="105.4" width="6.3" height="28.30" fill="#14558c"/>
<line x1="495.79999999999995" y1="133.7" x2="495.79999999999995" y2="136.39999999999998" stroke="#2a2a2a" stroke-width="1"/>
<rect x="505.4" y="30" width="6.3" height="3.70" fill="#581e6e"/>
<rect x="505.4" y="33.7" width="6.3" height="13.20" fill="#3cb446"/>
<rect x="505.4" y="46.9" width="6.3" height="59.90" fill="#c81437"/>
<rect x="505.4" y="106.8" width="6.3" height="26.90" fill="#14558c"/>
<line x1="508.54999999999995" y1="133.7" x2="508.54999999999995" y2="136.39999999999998" stroke="#2a2a2a" stroke-width="1"/>
<text transform="translate(283.15,144.9) scale(0.97,1)" font-family="Liberation Sans, sans-serif" font-size="6.4" text-anchor="middle" fill="#1e1e1e" stroke="#1e1e1e" stroke-width="0.22">W0</text>
<text transform="translate(295.9,144.9) scale(0.97,1)" font-family="Liberation Sans, sans-serif" font-size="6.4" text-anchor="middle" fill="#1e1e1e" stroke="#1e1e1e" stroke-width="0.22">W1</text>
<text transform="translate(308.65,144.9) scale(0.97,1)" font-family="Liberation Sans, sans-serif" font-size="6.4" text-anchor="middle" fill="#1e1e1e" stroke="#1e1e1e" stroke-width="0.22">W2</text>
<text transform="translate(321.4,144.9) scale(0.97,1)" font-family="Liberation Sans, sans-serif" font-size="6.4" text-anchor="middle" fill="#1e1e1e" stroke="#1e1e1e" stroke-width="0.22">W4</text>
<text transform="translate(334.15,144.9) scale(0.97,1)" font-family="Liberation Sans, sans-serif" font-size="6.4" text-anchor="middle" fill="#1e1e1e" stroke="#1e1e1e" stroke-width="0.22">W8</text>
<text transform="translate(346.9,144.9) scale(0.97,1)" font-family="Liberation Sans, sans-serif" font-size="6.4" text-anchor="middle" fill="#1e1e1e" stroke="#1e1e1e" stroke-width="0.22">3m</text>
<text transform="translate(359.65,144.9) scale(0.97,1)" font-family="Liberation Sans, sans-serif" font-size="6.4" text-anchor="middle" fill="#1e1e1e" stroke="#1e1e1e" stroke-width="0.22">6m</text>
<text transform="translate(372.4,144.9) scale(0.97,1)" font-family="Liberation Sans, sans-serif" font-size="6.4" text-anchor="middle" fill="#1e1e1e" stroke="#1e1e1e" stroke-width="0.22">9m</text>
<text transform="translate(385.15,144.9) scale(0.97,1)" font-family="Liberation Sans, sans-serif" font-size="6.4" text-anchor="middle" fill="#1e1e1e" stroke="#1e1e1e" stroke-width="0.22">1y</text>
<text transform="translate(406.55,144.9) scale(0.97,1)" font-family="Liberation Sans, sans-serif" font-size="6.4" text-anchor="middle" fill="#1e1e1e" stroke="#1e1e1e" stroke-width="0.22">W0</text>
<text transform="translate(419.3,144.9) scale(0.97,1)" font-family="Liberation Sans, sans-serif" font-size="6.4" text-anchor="middle" fill="#1e1e1e" stroke="#1e1e1e" stroke-width="0.22">W1</text>
<text transform="translate(432.05,144.9) scale(0.97,1)" font-family="Liberation Sans, sans-serif" font-size="6.4" text-anchor="middle" fill="#1e1e1e" stroke="#1e1e1e" stroke-width="0.22">W2</text>
<text transform="translate(444.8,144.9) scale(0.97,1)" font-family="Liberation Sans, sans-serif" font-size="6.4" text-anchor="middle" fill="#1e1e1e" stroke="#1e1e1e" stroke-width="0.22">W4</text>
<text transform="translate(457.55,144.9) scale(0.97,1)" font-family="Liberation Sans, sans-serif" font-size="6.4" text-anchor="middle" fill="#1e1e1e" stroke="#1e1e1e" stroke-width="0.22">W8</text>
<text transform="translate(470.3,144.9) scale(0.97,1)" font-family="Liberation Sans, sans-serif" font-size="6.4" text-anchor="middle" fill="#1e1e1e" stroke="#1e1e1e" stroke-width="0.22">3m</text>
<text transform="translate(483.05,144.9) scale(0.97,1)" font-family="Liberation Sans, sans-serif" font-size="6.4" text-anchor="middle" fill="#1e1e1e" stroke="#1e1e1e" stroke-width="0.22">6m</text>
<text transform="translate(495.8,144.9) scale(0.97,1)" font-family="Liberation Sans, sans-serif" font-size="6.4" text-anchor="middle" fill="#1e1e1e" stroke="#1e1e1e" stroke-width="0.22">9m</text>
<text transform="translate(508.55,144.9) scale(0.97,1)" font-family="Liberation Sans, sans-serif" font-size="6.4" text-anchor="middle" fill="#1e1e1e" stroke="#1e1e1e" stroke-width="0.22">1y</text>
<text transform="translate(345.6,174.5) scale(0.935,1)" font-family="Liberation Sans, sans-serif" font-size="9.6" text-anchor="start" fill="#1e1e1e" stroke="#1e1e1e" stroke-width="0.22">CD4Tcon population (%)</text>
<line x1="276.2" y1="181.3" x2="276.2" y2="288.3" stroke="#2a2a2a" stroke-width="1.2"/>
<line x1="273.59999999999997" y1="288.30" x2="276.2" y2="288.30" stroke="#2a2a2a" stroke-width="1.1"/>
<text transform="translate(270.8,290.7) scale(0.97,1)" font-family="Liberation Sans, sans-serif" font-size="7.8" text-anchor="end" fill="#1e1e1e" stroke="#1e1e1e" stroke-width="0.22">0</text>
<line x1="273.59999999999997" y1="267.64" x2="276.2" y2="267.64" stroke="#2a2a2a" stroke-width="1.1"/>
<text transform="translate(270.8,270.04) scale(0.97,1)" font-family="Liberation Sans, sans-serif" font-size="7.8" text-anchor="end" fill="#1e1e1e" stroke="#1e1e1e" stroke-width="0.22">20</text>
<line x1="273.59999999999997" y1="246.98" x2="276.2" y2="246.98" stroke="#2a2a2a" stroke-width="1.1"/>
<text transform="translate(270.8,249.38) scale(0.97,1)" font-family="Liberation Sans, sans-serif" font-size="7.8" text-anchor="end" fill="#1e1e1e" stroke="#1e1e1e" stroke-width="0.22">40</text>
<line x1="273.59999999999997" y1="226.32" x2="276.2" y2="226.32" stroke="#2a2a2a" stroke-width="1.1"/>
<text transform="translate(270.8,228.72) scale(0.97,1)" font-family="Liberation Sans, sans-serif" font-size="7.8" text-anchor="end" fill="#1e1e1e" stroke="#1e1e1e" stroke-width="0.22">60</text>
<line x1="273.59999999999997" y1="205.66" x2="276.2" y2="205.66" stroke="#2a2a2a" stroke-width="1.1"/>
<text transform="translate(270.8,208.06) scale(0.97,1)" font-family="Liberation Sans, sans-serif" font-size="7.8" text-anchor="end" fill="#1e1e1e" stroke="#1e1e1e" stroke-width="0.22">80</text>
<line x1="273.59999999999997" y1="185.00" x2="276.2" y2="185.00" stroke="#2a2a2a" stroke-width="1.1"/>
<text transform="translate(270.8,187.4) scale(0.97,1)" font-family="Liberation Sans, sans-serif" font-size="7.8" text-anchor="end" fill="#1e1e1e" stroke="#1e1e1e" stroke-width="0.22">100</text>
<line x1="275.2" y1="288.3" x2="513.5" y2="288.3" stroke="#2a2a2a" stroke-width="1.2"/>
<rect x="280.0" y="185" width="6.3" height="15.80" fill="#581e6e"/>
<rect x="280.0" y="200.8" width="6.3" height="17.50" fill="#3cb446"/>
<rect x="280.0" y="218.3" width="6.3" height="27.50" fill="#c81437"/>
<rect x="280.0" y="245.8" width="6.3" height="42.50" fill="#14558c"/>
<line x1="283.15" y1="288.3" x2="283.15" y2="291.0" stroke="#2a2a2a" stroke-width="1"/>
<rect x="292.75" y="185" width="6.3" height="15.00" fill="#581e6e"/>
<rect x="292.75" y="200" width="6.3" height="19.00" fill="#3cb446"/>
<rect x="292.75" y="219" width="6.3" height="28.00" fill="#c81437"/>
<rect x="292.75" y="247" width="6.3" height="41.30" fill="#14558c"/>
<line x1="295.9" y1="288.3" x2="295.9" y2="291.0" stroke="#2a2a2a" stroke-width="1"/>
<rect x="305.5" y="185" width="6.3" height="19.50" fill="#581e6e"/>
<rect x="305.5" y="204.5" width="6.3" height="10.50" fill="#3cb446"/>
<rect x="305.5" y="215" width="6.3" height="19.80" fill="#c81437"/>
<rect x="305.5" y="234.8" width="6.3" height="53.50" fill="#14558c"/>
<line x1="308.65" y1="288.3" x2="308.65" y2="291.0" stroke="#2a2a2a" stroke-width="1"/>
<rect x="318.25" y="185" width="6.3" height="18.80" fill="#581e6e"/>
<rect x="318.25" y="203.8" width="6.3" height="21.20" fill="#3cb446"/>
<rect x="318.25" y="225" width="6.3" height="22.80" fill="#c81437"/>
<rect x="318.25" y="247.8" width="6.3" height="40.50" fill="#14558c"/>
<line x1="321.4" y1="288.3" x2="321.4" y2="291.0" stroke="#2a2a2a" stroke-width="1"/>
<rect x="331.0" y="185" width="6.3" height="21.30" fill="#581e6e"/>
<rect x="331.0" y="206.3" width="6.3" height="21.20" fill="#3cb446"/>
<rect x="331.0" y="227.5" width="6.3" height="24.30" fill="#c81437"/>
<rect x="331.0" y="251.8" width="6.3" height="36.50" fill="#14558c"/>
<line x1="334.15" y1="288.3" x2="334.15" y2="291.0" stroke="#2a2a2a" stroke-width="1"/>
<rect x="343.75" y="185" width="6.3" height="26.00" fill="#581e6e"/>
<rect x="343.75" y="211" width="6.3" height="17.30" fill="#3cb446"/>
<rect x="343.75" y="228.3" width="6.3" height="22.20" fill="#c81437"/>
<rect x="343.75" y="250.5" width="6.3" height="37.80" fill="#14558c"/>
<line x1="346.9" y1="288.3" x2="346.9" y2="291.0" stroke="#2a2a2a" stroke-width="1"/>
<rect x="356.5" y="185" width="6.3" height="32.80" fill="#581e6e"/>
<rect x="356.5" y="217.8" width="6.3" height="15.00" fill="#3cb446"/>
<rect x="356.5" y="232.8" width="6.3" height="17.00" fill="#c81437"/>
<rect x="356.5" y="249.8" width="6.3" height="38.50" fill="#14558c"/>
<line x1="359.65" y1="288.3" x2="359.65" y2="291.0" stroke="#2a2a2a" stroke-width="1"/>
<rect x="369.25" y="185" width="6.3" height="26.00" fill="#581e6e"/>
<rect x="369.25" y="211" width="6.3" height="14.00" fill="#3cb446"/>
<rect x="369.25" y="225" width="6.3" height="21.30" fill="#c81437"/>
<rect x="369.25" y="246.3" width="6.3" height="42.00" fill="#14558c"/>
<line x1="372.4" y1="288.3" x2="372.4" y2="291.0" stroke="#2a2a2a" stroke-width="1"/>
<rect x="382.0" y="185" width="6.3" height="19.40" fill="#581e6e"/>
<rect x="382.0" y="204.4" width="6.3" height="10.60" fill="#3cb446"/>
<rect x="382.0" y="215" width="6.3" height="28.10" fill="#c81437"/>
<rect x="382.0" y="243.1" width="6.3" height="45.20" fill="#14558c"/>
<line x1="385.15" y1="288.3" x2="385.15" y2="291.0" stroke="#2a2a2a" stroke-width="1"/>
<rect x="403.4" y="185" width="6.3" height="13.40" fill="#581e6e"/>
<rect x="403.4" y="198.4" width="6.3" height="25.60" fill="#3cb446"/>
<rect x="403.4" y="224" width="6.3" height="21.30" fill="#c81437"/>
<rect x="403.4" y="245.3" width="6.3" height="43.00" fill="#14558c"/>
<line x1="406.54999999999995" y1="288.3" x2="406.54999999999995" y2="291.0" stroke="#2a2a2a" stroke-width="1"/>
<rect x="416.15" y="185" width="6.3" height="17.80" fill="#581e6e"/>
<rect x="416.15" y="202.8" width="6.3" height="5.60" fill="#3cb446"/>
<rect x="416.15" y="208.4" width="6.3" height="23.50" fill="#c81437"/>
<rect x="416.15" y="231.9" width="6.3" height="56.40" fill="#14558c"/>
<line x1="419.29999999999995" y1="288.3" x2="419.29999999999995" y2="291.0" stroke="#2a2a2a" stroke-width="1"/>
<rect x="428.9" y="185" width="6.3" height="13.40" fill="#581e6e"/>
<rect x="428.9" y="198.4" width="6.3" height="2.60" fill="#3cb446"/>
<rect x="428.9" y="201" width="6.3" height="17.80" fill="#c81437"/>
<rect x="428.9" y="218.8" width="6.3" height="69.50" fill="#14558c"/>
<line x1="432.04999999999995" y1="288.3" x2="432.04999999999995" y2="291.0" stroke="#2a2a2a" stroke-width="1"/>
<rect x="441.65" y="185" width="6.3" height="11.60" fill="#581e6e"/>
<rect x="441.65" y="196.6" width="6.3" height="8.10" fill="#3cb446"/>
<rect x="441.65" y="204.7" width="6.3" height="22.80" fill="#c81437"/>
<rect x="441.65" y="227.5" width="6.3" height="60.80" fill="#14558c"/>
<line x1="444.79999999999995" y1="288.3" x2="444.79999999999995" y2="291.0" stroke="#2a2a2a" stroke-width="1"/>
<rect x="454.4" y="185" width="6.3" height="8.80" fill="#581e6e"/>
<rect x="454.4" y="193.8" width="6.3" height="17.20" fill="#3cb446"/>
<rect x="454.4" y="211" width="6.3" height="29.00" fill="#c81437"/>
<rect x="454.4" y="240" width="6.3" height="48.30" fill="#14558c"/>
<line x1="457.54999999999995" y1="288.3" x2="457.54999999999995" y2="291.0" stroke="#2a2a2a" stroke-width="1"/>
<rect x="467.15" y="185" width="6.3" height="8.40" fill="#581e6e"/>
<rect x="467.15" y="193.4" width="6.3" height="12.60" fill="#3cb446"/>
<rect x="467.15" y="206" width="6.3" height="29.60" fill="#c81437"/>
<rect x="467.15" y="235.6" width="6.3" height="52.70" fill="#14558c"/>
<line x1="470.29999999999995" y1="288.3" x2="470.29999999999995" y2="291.0" stroke="#2a2a2a" stroke-width="1"/>
<rect x="479.9" y="185" width="6.3" height="10.30" fill="#581e6e"/>
<rect x="479.9" y="195.3" width="6.3" height="26.60" fill="#3cb446"/>
<rect x="479.9" y="221.9" width="6.3" height="24.70" fill="#c81437"/>
<rect x="479.9" y="246.6" width="6.3" height="41.70" fill="#14558c"/>
<line x1="483.04999999999995" y1="288.3" x2="483.04999999999995" y2="291.0" stroke="#2a2a2a" stroke-width="1"/>
<rect x="492.65" y="185" width="6.3" height="7.80" fill="#581e6e"/>
<rect x="492.65" y="192.8" width="6.3" height="21.90" fill="#3cb446"/>
<rect x="492.65" y="214.7" width="6.3" height="38.40" fill="#c81437"/>
<rect x="492.65" y="253.1" width="6.3" height="35.20" fill="#14558c"/>
<line x1="495.79999999999995" y1="288.3" x2="495.79999999999995" y2="291.0" stroke="#2a2a2a" stroke-width="1"/>
<rect x="505.4" y="185" width="6.3" height="8.80" fill="#581e6e"/>
<rect x="505.4" y="193.8" width="6.3" height="25.00" fill="#3cb446"/>
<rect x="505.4" y="218.8" width="6.3" height="33.70" fill="#c81437"/>
<rect x="505.4" y="252.5" width="6.3" height="35.80" fill="#14558c"/>
<line x1="508.54999999999995" y1="288.3" x2="508.54999999999995" y2="291.0" stroke="#2a2a2a" stroke-width="1"/>
<text transform="translate(283.15,299.5) scale(0.97,1)" font-family="Liberation Sans, sans-serif" font-size="6.4" text-anchor="middle" fill="#1e1e1e" stroke="#1e1e1e" stroke-width="0.22">W0</text>
<text transform="translate(295.9,299.5) scale(0.97,1)" font-family="Liberation Sans, sans-serif" font-size="6.4" text-anchor="middle" fill="#1e1e1e" stroke="#1e1e1e" stroke-width="0.22">W1</text>
<text transform="translate(308.65,299.5) scale(0.97,1)" font-family="Liberation Sans, sans-serif" font-size="6.4" text-anchor="middle" fill="#1e1e1e" stroke="#1e1e1e" stroke-width="0.22">W2</text>
<text transform="translate(321.4,299.5) scale(0.97,1)" font-family="Liberation Sans, sans-serif" font-size="6.4" text-anchor="middle" fill="#1e1e1e" stroke="#1e1e1e" stroke-width="0.22">W4</text>
<text transform="translate(334.15,299.5) scale(0.97,1)" font-family="Liberation Sans, sans-serif" font-size="6.4" text-anchor="middle" fill="#1e1e1e" stroke="#1e1e1e" stroke-width="0.22">W8</text>
<text transform="translate(346.9,299.5) scale(0.97,1)" font-family="Liberation Sans, sans-serif" font-size="6.4" text-anchor="middle" fill="#1e1e1e" stroke="#1e1e1e" stroke-width="0.22">3m</text>
<text transform="translate(359.65,299.5) scale(0.97,1)" font-family="Liberation Sans, sans-serif" font-size="6.4" text-anchor="middle" fill="#1e1e1e" stroke="#1e1e1e" stroke-width="0.22">6m</text>
<text transform="translate(372.4,299.5) scale(0.97,1)" font-family="Liberation Sans, sans-serif" font-size="6.4" text-anchor="middle" fill="#1e1e1e" stroke="#1e1e1e" stroke-width="0.22">9m</text>
<text transform="translate(385.15,299.5) scale(0.97,1)" font-family="Liberation Sans, sans-serif" font-size="6.4" text-anchor="middle" fill="#1e1e1e" stroke="#1e1e1e" stroke-width="0.22">1y</text>
<text transform="translate(406.55,299.5) scale(0.97,1)" font-family="Liberation Sans, sans-serif" font-size="6.4" text-anchor="middle" fill="#1e1e1e" stroke="#1e1e1e" stroke-width="0.22">W0</text>
<text transform="translate(419.3,299.5) scale(0.97,1)" font-family="Liberation Sans, sans-serif" font-size="6.4" text-anchor="middle" fill="#1e1e1e" stroke="#1e1e1e" stroke-width="0.22">W1</text>
<text transform="translate(432.05,299.5) scale(0.97,1)" font-family="Liberation Sans, sans-serif" font-size="6.4" text-anchor="middle" fill="#1e1e1e" stroke="#1e1e1e" stroke-width="0.22">W2</text>
<text transform="translate(444.8,299.5) scale(0.97,1)" font-family="Liberation Sans, sans-serif" font-size="6.4" text-anchor="middle" fill="#1e1e1e" stroke="#1e1e1e" stroke-width="0.22">W4</text>
<text transform="translate(457.55,299.5) scale(0.97,1)" font-family="Liberation Sans, sans-serif" font-size="6.4" text-anchor="middle" fill="#1e1e1e" stroke="#1e1e1e" stroke-width="0.22">W8</text>
<text transform="translate(470.3,299.5) scale(0.97,1)" font-family="Liberation Sans, sans-serif" font-size="6.4" text-anchor="middle" fill="#1e1e1e" stroke="#1e1e1e" stroke-width="0.22">3m</text>
<text transform="translate(483.05,299.5) scale(0.97,1)" font-family="Liberation Sans, sans-serif" font-size="6.4" text-anchor="middle" fill="#1e1e1e" stroke="#1e1e1e" stroke-width="0.22">6m</text>
<text transform="translate(495.8,299.5) scale(0.97,1)" font-family="Liberation Sans, sans-serif" font-size="6.4" text-anchor="middle" fill="#1e1e1e" stroke="#1e1e1e" stroke-width="0.22">9m</text>
<text transform="translate(508.55,299.5) scale(0.97,1)" font-family="Liberation Sans, sans-serif" font-size="6.4" text-anchor="middle" fill="#1e1e1e" stroke="#1e1e1e" stroke-width="0.22">1y</text>
<rect x="456.80" y="27.25" width="1.5" height="1.5" fill="#2a2a2a"/>
<rect x="468.25" y="24.15" width="1.5" height="1.5" fill="#2a2a2a"/><rect x="470.85" y="24.15" width="1.5" height="1.5" fill="#2a2a2a"/>
<rect x="469.55" y="27.25" width="1.5" height="1.5" fill="#2a2a2a"/>
<rect x="481.00" y="24.15" width="1.5" height="1.5" fill="#2a2a2a"/><rect x="483.60" y="24.15" width="1.5" height="1.5" fill="#2a2a2a"/>
<rect x="482.30" y="27.25" width="1.5" height="1.5" fill="#2a2a2a"/>
<rect x="507.80" y="27.25" width="1.5" height="1.5" fill="#2a2a2a"/>
<rect x="431.27" y="33.02" width="1.55" height="1.55" fill="#fff" fill-opacity="0.9"/>
<rect x="444.02" y="75.42" width="1.55" height="1.55" fill="#fff" fill-opacity="0.9"/>
<rect x="456.77" y="75.42" width="1.55" height="1.55" fill="#fff" fill-opacity="0.9"/>
<rect x="468.38" y="69.12" width="1.55" height="1.55" fill="#fff" fill-opacity="0.9"/><rect x="470.68" y="69.12" width="1.55" height="1.55" fill="#fff" fill-opacity="0.9"/>
<rect x="469.52" y="72.22" width="1.55" height="1.55" fill="#fff" fill-opacity="0.9"/>
<rect x="481.12" y="69.12" width="1.55" height="1.55" fill="#fff" fill-opacity="0.9"/><rect x="483.43" y="69.12" width="1.55" height="1.55" fill="#fff" fill-opacity="0.9"/>
<rect x="482.27" y="72.22" width="1.55" height="1.55" fill="#fff" fill-opacity="0.9"/>
<rect x="507.77" y="71.42" width="1.55" height="1.55" fill="#fff" fill-opacity="0.9"/>
<rect x="482.27" y="186.72" width="1.55" height="1.55" fill="#fff" fill-opacity="0.9"/>
<rect x="495.02" y="186.72" width="1.55" height="1.55" fill="#fff" fill-opacity="0.9"/>
<text transform="translate(334.3,311.9) scale(0.66,1)" font-family="Liberation Sans, sans-serif" font-size="9.7" text-anchor="middle" fill="#1e1e1e" stroke="#1e1e1e" stroke-width="0.12" font-weight="bold">NR</text>
<text transform="translate(457.7,311.9) scale(0.66,1)" font-family="Liberation Sans, sans-serif" font-size="9.7" text-anchor="middle" fill="#1e1e1e" stroke="#1e1e1e" stroke-width="0.12" font-weight="bold">R</text>
<rect x="332.4" y="323.9" width="5.1" height="4.8" fill="#14558c"/>
<text transform="translate(340.7,328.7) scale(0.875,1)" font-family="Liberation Sans, sans-serif" font-size="8.0" text-anchor="start" fill="#1e1e1e" stroke="#1e1e1e" stroke-width="0.22">EM</text>
<rect x="360.1" y="323.9" width="5.1" height="4.8" fill="#c81437"/>
<text transform="translate(368.5,328.7) scale(0.875,1)" font-family="Liberation Sans, sans-serif" font-size="8.0" text-anchor="start" fill="#1e1e1e" stroke="#1e1e1e" stroke-width="0.22">CM</text>
<rect x="389.2" y="323.9" width="5.1" height="4.8" fill="#3cb446"/>
<text transform="translate(397.5,328.7) scale(0.875,1)" font-family="Liberation Sans, sans-serif" font-size="8.0" text-anchor="start" fill="#1e1e1e" stroke="#1e1e1e" stroke-width="0.22">Naive</text>
<rect x="423.7" y="323.9" width="5.1" height="4.8" fill="#581e6e"/>
<text transform="translate(432,328.7) scale(0.875,1)" font-family="Liberation Sans, sans-serif" font-size="8.0" text-anchor="start" fill="#1e1e1e" stroke="#1e1e1e" stroke-width="0.22">TEMRA</text>
</svg></body></html>
